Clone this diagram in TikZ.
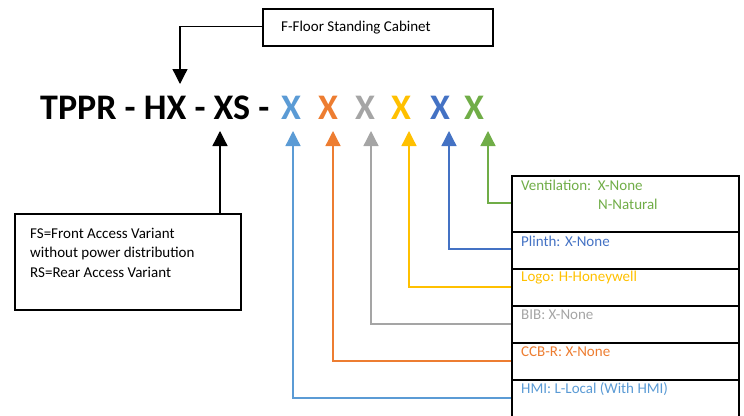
\documentclass[tikz,border=0pt]{standalone}
\usepackage{fontspec}
\setmainfont{Carlito}
\usetikzlibrary{arrows.meta}
\definecolor{cA}{HTML}{5B9BD5}
\definecolor{cB}{HTML}{ED7D31}
\definecolor{cC}{HTML}{A5A5A5}
\definecolor{cD}{HTML}{FFC000}
\definecolor{cE}{HTML}{4472C4}
\definecolor{cF}{HTML}{70AD47}
\tikzset{
  box/.style={draw=black, line width=1.8pt, rectangle, inner sep=0pt, anchor=north west},
  lbl/.style={font=\fontsize{15}{19.5}\selectfont, inner sep=0pt, anchor=west},
  bigx/.style={font=\fontsize{36}{40}\selectfont\bfseries, inner sep=0pt, anchor=base},
  blk/.style={draw=black, line width=1.3pt, -{Triangle[width=15pt,length=15pt]}},
  clr/.style={draw=#1, line width=1.3pt, -{Triangle[width=15pt,length=15pt]}},
}
\begin{document}
\begin{tikzpicture}[x=1pt,y=-1pt]
\useasboundingbox (0,0) rectangle (744,415);
% top box
\node[box, minimum width=230pt, minimum height=37pt] (fbox) at (262,8) {};
\node[lbl] (ftxt) at (281,28) {F-Floor Standing Cabinet};
% title
\node[font=\fontsize{36}{40}\selectfont\bfseries, inner sep=0pt, anchor=base west] (title) at (40,119) {TPPR - HX - XS -};
\node[bigx, text=cA] (x1) at (291,119) {X};
\node[bigx, text=cB] (x2) at (328,119) {X};
\node[bigx, text=cC] (x3) at (365,119) {X};
\node[bigx, text=cD] (x4) at (401,119) {X};
\node[bigx, text=cE] (x5) at (440,119) {X};
\node[bigx, text=cF] (x6) at (474,119) {X};
% arrow into HX
\coordinate (hxtip) at (180,84);
\draw[blk] (fbox.west |- 0,26.5) -| (hxtip);
% left box
\node[box, minimum width=226pt, minimum height=96pt] (sbox) at (14,213) {};
\node[lbl, anchor=north west, align=left] (stxt) at (30,227.5) {FS=Front Access Variant\\without power distribution\\RS=Rear Access Variant};
\coordinate (xstip) at (220,131);
\draw[blk] (sbox.north -| xstip) -- (xstip);
% table rows
\node[box, minimum width=227pt, minimum height=56pt] (rV) at (511,175) {};
\node[box, minimum width=227pt, minimum height=37pt] (rP) at (511,231) {};
\node[box, minimum width=227pt, minimum height=37pt] (rL) at (511,268) {};
\node[box, minimum width=227pt, minimum height=37pt] (rB) at (511,305) {};
\node[box, minimum width=227pt, minimum height=37pt] (rC) at (511,342) {};
\node[box, minimum width=227pt, minimum height=45pt] (rH) at (511,379) {};
\node[lbl, text=cF] (tV) at (521,185) {Ventilation:\ \ X-None};
\node[lbl, text=cF] (tV2) at (598,204) {N-Natural};
\node[lbl, text=cE] (tP) at (521,241) {Plinth: X-None};
\node[lbl, text=cD] (tL) at (521,278) {Logo: H-Honeywell};
\node[lbl, text=cC] (tB) at (521,315) {BIB: X-None};
\node[lbl, text=cB] (tC) at (521,352) {CCB-R: X-None};
\node[lbl, text=cA] (tH) at (521,389) {HMI: L-Local (With HMI)};
% arrow tips
\coordinate (a1) at (293,131);
\coordinate (a2) at (333,131);
\coordinate (a3) at (371,131);
\coordinate (a4) at (409,131);
\coordinate (a5) at (449,131);
\coordinate (a6) at (488,131);
% connectors
\draw[clr=cF] (rV.west |- 0,203) -| (a6);
\draw[clr=cE] (rP.west |- 0,249) -| (a5);
\draw[clr=cD] (rL.west |- 0,287) -| (a4);
\draw[clr=cC] (rB.west |- 0,324) -| (a3);
\draw[clr=cB] (rC.west |- 0,361) -| (a2);
\draw[clr=cA] (rH.west |- 0,398) -| (a1);
\end{tikzpicture}
\end{document}
